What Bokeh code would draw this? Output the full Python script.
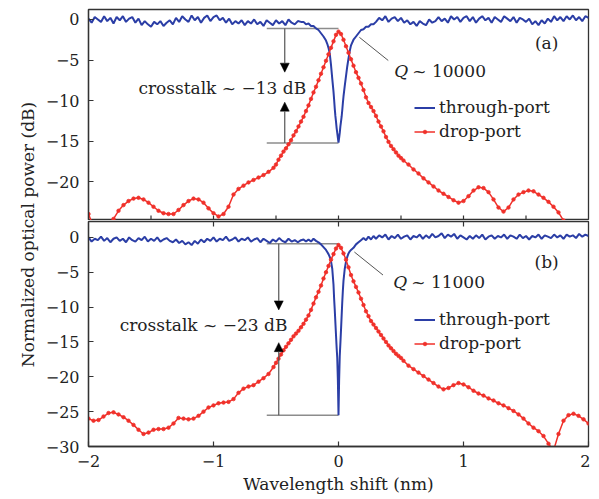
import math
from bokeh.plotting import figure
from bokeh.layouts import row, column
from bokeh.models import Range1d, FixedTicker, Legend, LegendItem, Arrow, NormalHead
from bokeh.core.properties import value
from bokeh.embed import file_html
from bokeh.resources import INLINE

# ---------------- data ----------------
blue_x_left = [-2.000,-1.975,-1.950,-1.925,-1.900,-1.875,-1.850,-1.825,-1.800,-1.775,
               -1.750,-1.725,-1.700,-1.675,-1.650,-1.625,-1.600,-1.575,-1.550,-1.525,
               -1.500,-1.475,-1.450,-1.425,-1.400,-1.375,-1.350,-1.325,-1.300,-1.275,
               -1.250,-1.225,-1.200,-1.175,-1.150,-1.125,-1.100,-1.075,-1.050,-1.025,
               -1.000,-0.975,-0.950,-0.925,-0.900,-0.875,-0.850,-0.825,-0.800,-0.775,
               -0.750,-0.725,-0.700,-0.675,-0.650,-0.625,-0.600,-0.575,-0.550,-0.525,
               -0.500,-0.475,-0.450,-0.425,-0.400,-0.375,-0.350,-0.325,-0.300]
blue_x_mid = [-0.28,-0.26,-0.24,-0.22,-0.20,-0.18,-0.16,-0.14,-0.12,-0.10,
              -0.09,-0.08,-0.07,-0.06,-0.05,
              -0.04,-0.035,-0.03,-0.025,-0.02,-0.015,-0.01,-0.005,0.0,0.005,0.01,0.015,0.02,0.025,0.03,0.035,0.04,
              0.05,0.06,0.07,0.08,0.09,
              0.10,0.12,0.14,0.16,0.18,0.20,0.22,0.24,0.26,0.28]
blue_x_right = [0.300,0.325,0.350,0.375,0.400,0.425,0.450,0.475,0.500,0.525,
                0.550,0.575,0.600,0.625,0.650,0.675,0.700,0.725,0.750,0.775,
                0.800,0.825,0.850,0.875,0.900,0.925,0.950,0.975,1.000,1.025,
                1.050,1.075,1.100,1.125,1.150,1.175,1.200,1.225,1.250,1.275,
                1.300,1.325,1.350,1.375,1.400,1.425,1.450,1.475,1.500,1.525,
                1.550,1.575,1.600,1.625,1.650,1.675,1.700,1.725,1.750,1.775,
                1.800,1.825,1.850,1.875,1.900,1.925,1.950,1.975,2.000]
blue_x = blue_x_left + blue_x_mid + blue_x_right

through_a = [0.1,-0.4,0.3,0.0,-0.3,0.4,-0.2,0.2,-0.5,0.3,
             -0.1,0.4,-0.3,0.1,0.3,-0.4,0.1,-0.7,-0.2,-0.6,
             -0.9,-0.3,-0.6,-0.2,-0.8,-0.4,-0.1,-0.6,0.2,-0.3,
             0.4,0.0,-0.3,0.5,-0.1,0.3,-0.4,0.2,0.5,-0.2,
             0.3,0.5,-0.1,0.2,-0.4,0.1,-0.6,-0.2,-0.5,-0.1,
             -0.7,-0.2,-0.5,0.0,-0.6,-0.3,-0.8,-0.1,-0.4,-0.7,
             -0.1,-0.5,-0.2,-0.7,0.0,-0.4,-0.6,-0.2,-0.3,
             -0.3,-0.6,-0.5,-0.8,-0.8,-1.1,-1.3,-1.7,-2.1,-2.6,
             -3.0,-3.5,-4.2,-5.6,-7.3,
             -8.9,-9.9,-11.0,-11.9,-12.6,-13.4,-14.0,-14.6,-15.2,-14.6,-14.0,-13.2,-12.6,-12.0,-11.2,-10.3,-9.5,
             -8.2,-7.0,-5.8,-4.8,-3.9,
             -3.2,-2.5,-2.1,-1.7,-1.3,-1.2,-0.9,-0.9,-0.6,-0.6,
             -0.3,0.2,-0.1,0.4,-0.3,0.1,0.3,-0.2,0.2,-0.4,
             -0.1,-0.6,-0.3,-0.8,-0.2,-0.5,-0.7,0.0,-0.4,-0.2,
             0.3,-0.2,0.1,-0.4,0.4,0.0,0.3,-0.3,0.2,0.4,
             -0.2,0.3,-0.4,0.1,0.4,-0.1,0.2,-0.4,0.3,0.0,
             -0.3,0.4,0.1,-0.2,0.3,-0.4,0.2,0.0,-0.3,0.1,
             -0.6,-0.2,-0.7,-0.1,-0.5,0.1,-0.3,0.4,-0.1,0.3,
             -0.2,0.4,0.0,0.5,-0.1,0.3,-0.2,0.4,0.2]

through_b = [0.0,-0.6,-0.2,-0.4,0.1,-0.5,-0.1,-0.7,-0.2,0.0,
             -0.5,-0.2,-0.7,0.0,-0.4,-0.6,-0.1,-0.4,0.1,-0.6,
             -0.2,-0.5,0.0,-0.6,-0.3,-0.1,-0.5,-0.7,-0.3,-0.8,
             -0.5,-1.0,-0.7,-1.1,-0.5,-0.9,-0.3,-0.7,-0.2,-0.5,
             0.0,-0.6,-0.2,-0.4,0.1,-0.5,-0.3,0.0,-0.6,-0.2,
             -0.4,0.0,-0.6,-0.3,-0.1,-0.7,-0.2,-0.5,-0.8,-0.3,
             -0.6,-0.1,-0.5,-0.7,-0.2,-0.6,-0.4,-0.7,-0.4,
             -0.3,-0.6,-0.3,-0.6,-0.2,-0.5,-0.7,-1.0,-1.4,-1.8,
             -2.1,-2.4,-2.8,-3.4,-4.5,
             -6.8,-8.8,-10.4,-12.2,-14.0,-15.8,-17.3,-20.5,-25.5,-20.5,-17.0,-15.2,-13.3,-11.3,-9.3,-7.6,-6.2,
             -4.5,-3.5,-2.8,-2.3,-2.0,
             -1.8,-1.5,-1.0,-0.7,-0.4,-0.1,-0.4,0.1,-0.3,0.2,
             -0.2,0.3,0.0,0.4,-0.3,0.2,-0.1,0.4,-0.2,0.1,
             0.3,-0.3,0.2,0.0,0.4,-0.2,0.3,-0.1,0.5,0.0,
             0.2,0.6,-0.1,0.4,0.1,0.5,-0.2,0.3,0.0,-0.3,
             0.2,-0.2,0.3,-0.1,0.4,-0.3,0.1,0.3,-0.2,0.2,
             0.0,0.4,-0.2,0.3,0.1,-0.2,0.4,-0.1,0.2,-0.3,
             0.2,0.0,0.4,-0.2,0.3,0.1,-0.1,0.4,0.0,0.3,
             -0.2,0.4,0.1,0.3,-0.1,0.5,0.1,0.4,0.2]

red_x = [-2.00,-1.96,-1.92,-1.88,-1.84,-1.80,-1.76,-1.72,-1.68,-1.64,
         -1.60,-1.56,-1.52,-1.48,-1.44,-1.40,-1.36,-1.32,-1.28,-1.24,
         -1.20,-1.16,-1.12,-1.08,-1.04,-1.00,-0.96,-0.92,-0.88,-0.84,
         -0.80,-0.76,-0.72,-0.68,-0.64,-0.60,-0.56,-0.52,
         -0.50,-0.48,-0.46,-0.44,-0.42,-0.40,-0.38,-0.36,-0.34,-0.32,
         -0.30,-0.28,-0.26,-0.24,-0.22,-0.20,-0.18,-0.16,-0.14,-0.12,
         -0.10,-0.08,-0.06,-0.04,-0.02,0.00,0.02,0.04,0.06,0.08,
         0.10,0.12,0.14,0.16,0.18,0.20,0.22,0.24,0.26,0.28,
         0.30,0.32,0.34,0.36,0.38,0.40,0.42,0.44,0.46,0.48,
         0.50,
         0.52,0.56,0.60,0.64,0.68,0.72,0.76,0.80,0.84,0.88,
         0.92,0.96,1.00,1.04,1.08,1.12,1.16,1.20,1.24,1.28,
         1.32,1.36,1.40,1.44,1.48,1.52,1.56,1.60,1.64,1.68,
         1.72,1.76,1.80,1.84,1.88,1.92,1.96,2.00]

drop_a = [-24.0,-25.6,-26.6,-26.8,-25.6,-24.6,-23.6,-22.9,-22.4,-22.1,
          -22.0,-22.2,-22.6,-23.1,-23.6,-23.9,-24.0,-24.0,-23.5,-22.9,
          -22.4,-22.1,-22.2,-22.6,-23.3,-23.9,-24.3,-24.0,-23.1,-21.6,
          -20.9,-20.5,-20.1,-19.8,-19.5,-19.2,-18.8,-18.3,
          -17.9,-17.3,-16.8,-16.3,-15.9,-15.4,-14.9,-14.3,-13.8,-13.2,
          -12.6,-12.0,-11.3,-10.6,-9.8,-9.0,-8.3,-7.5,-6.7,-5.9,
          -5.1,-4.3,-3.5,-2.7,-1.9,-1.5,-1.8,-2.5,-3.3,-4.1,
          -4.9,-5.7,-6.5,-7.2,-7.9,-8.7,-9.6,-10.3,-10.8,-11.3,
          -11.9,-12.6,-13.2,-13.8,-14.5,-15.1,-15.6,-16.0,-16.4,-16.8,
          -17.1,
          -17.4,-17.9,-18.5,-19.0,-19.6,-20.1,-20.6,-21.1,-21.5,-21.9,
          -22.3,-22.6,-22.4,-21.8,-21.1,-20.7,-20.8,-21.3,-22.2,-23.2,
          -23.7,-23.2,-22.2,-21.6,-21.3,-21.1,-21.2,-21.6,-22.0,-22.5,
          -23.1,-23.8,-24.8,-26.0,-27.0,-27.5,-27.5,-27.5]

drop_b = [-26.0,-26.3,-26.2,-25.7,-25.2,-25.1,-25.4,-25.8,-26.3,-26.9,
          -27.6,-28.2,-28.0,-27.6,-27.5,-27.5,-27.3,-26.7,-25.9,-26.0,
          -26.1,-26.0,-25.6,-25.0,-24.4,-24.1,-23.8,-23.7,-23.6,-23.2,
          -22.3,-21.7,-21.4,-21.2,-20.7,-20.2,-19.6,-18.6,
          -18.0,-17.4,-16.8,-16.2,-15.7,-15.2,-14.7,-14.2,-13.8,-13.4,
          -12.9,-12.4,-11.8,-11.2,-10.4,-9.5,-8.6,-7.8,-6.9,-5.9,
          -5.0,-4.1,-3.2,-2.4,-1.6,-1.1,-1.5,-2.3,-3.2,-4.3,
          -5.4,-6.3,-7.1,-7.9,-8.8,-9.7,-10.6,-11.3,-12.0,-12.5,
          -13.0,-13.5,-14.0,-14.5,-15.0,-15.5,-15.9,-16.3,-16.7,-17.0,
          -17.3,
          -17.7,-18.4,-18.9,-19.4,-19.9,-20.4,-20.9,-21.4,-21.8,-21.6,
          -21.2,-20.9,-21.1,-21.5,-22.0,-22.4,-22.7,-23.1,-23.4,-23.8,
          -24.1,-24.5,-24.9,-25.4,-26.0,-26.7,-27.3,-27.8,-28.5,-29.6,
          -30.6,-28.2,-26.3,-25.5,-25.3,-25.6,-26.1,-26.7]

x_ticks_b = [-2, -1, 0, 1, 2]
x_tick_labels = {-2: "\u22122", -1: "\u22121", 0: "0", 1: "1", 2: "2"}
x_minor_marks_a = [-1.5, -1.0, -0.5, 0.0, 0.5, 1.0, 1.5]   # inner ticks along (a)'s lower edge
x_marks_b_top = [-1.0, 0.0, 1.0]                           # inner ticks along (b)'s upper edge
y_ticks_a = [-20, -15, -10, -5, 0]
y_ticks_b = [-30, -25, -20, -15, -10, -5, 0]

# panel annotations (levels in dB, wavelength in nm)
ann_a = dict(level_hi=-1.1, level_lo=-15.25, x_left=-0.574, x_arrow=-0.43,
             arrow_dn=-6.5, arrow_up=-10.2, text="crosstalk ~ \u221213 dB", tx=-0.93, ty=-8.4,
             q="10000", qx=0.446, qy=-6.4, lead=(0.167, -2.2, 0.398, -5.06),
             tag="(a)", tagx=1.665, tagy=-2.96, yr=(-24.8, 1.23))
ann_b = dict(level_hi=-0.9, level_lo=-25.5, x_left=-0.574, x_arrow=-0.478,
             arrow_dn=-10.4, arrow_up=-15.1, text="crosstalk ~ \u221223 dB", tx=-1.08, ty=-12.55,
             q="11000", qx=0.438, qy=-6.4, lead=(0.127, -2.1, 0.356, -5.4),
             tag="(b)", tagx=1.665, tagy=-3.57, yr=(-30.0, 2.28))

# ---------------- style ----------------
FONT = "DejaVu Serif"
BLUE = "#2b3ea6"
RED = "#f0302a"
GRAY = "#8c8c8c"
INK = "#222222"
FRAME = "#333333"
LAB_W = 42
PW = 548
TOP_H = 220
BOT_H = 276


def style_axis(ax):
    ax.axis_line_color = FRAME
    ax.axis_line_width = 1.3
    ax.major_tick_line_color = FRAME
    ax.major_tick_line_width = 1.2
    ax.minor_tick_line_color = None
    ax.major_tick_in = 5
    ax.major_tick_out = 0
    ax.major_label_text_font = FONT
    ax.major_label_text_font_size = "16px"
    ax.major_label_text_color = INK


def make_panel(height, ann, yticks, through, drop, legend_loc, bottom):
    p = figure(width=PW, height=height, x_range=Range1d(-2, 2), y_range=Range1d(*ann["yr"]),
               output_backend="svg", toolbar_location=None,
               min_border_left=44, min_border_right=2,
               min_border_top=(1 if bottom else 9), min_border_bottom=0)
    p.grid.visible = False
    p.outline_line_color = FRAME
    p.outline_line_width = 1.3
    p.background_fill_color = "white"

    xa = p.xaxis[0]
    if bottom:
        style_axis(xa)
        xa.ticker = FixedTicker(ticks=x_ticks_b)
        xa.major_label_overrides = x_tick_labels
        xa.major_label_standoff = 8
        xa.axis_label = "Wavelength shift (nm)"
        xa.axis_label_text_font = FONT
        xa.axis_label_text_font_size = "17px"
        xa.axis_label_text_font_style = "normal"
        xa.axis_label_text_color = INK
        xa.axis_label_standoff = 4
        # small inner ticks hanging from the upper edge
        p.scatter(x_marks_b_top, [ann["yr"][1]] * len(x_marks_b_top), marker="dash", size=10,
                  angle=math.pi / 2, line_color=FRAME, line_width=1.2)
    else:
        xa.visible = False
        p.scatter(x_minor_marks_a, [ann["yr"][0]] * len(x_minor_marks_a), marker="dash", size=10,
                  angle=math.pi / 2, line_color=FRAME, line_width=1.2)

    ya = p.yaxis[0]
    style_axis(ya)
    ya.ticker = FixedTicker(ticks=yticks)
    ya.major_label_overrides = {t: ("\u2212%d" % -t if t < 0 else "%d" % t) for t in yticks}
    ya.major_label_standoff = 9

    # crosstalk markers
    p.segment(x0=[ann["x_left"], ann["x_left"]], y0=[ann["level_hi"], ann["level_lo"]],
              x1=[0, 0], y1=[ann["level_hi"], ann["level_lo"]], line_color=GRAY, line_width=1.5)
    lx0, ly0, lx1, ly1 = ann["lead"]
    p.segment(x0=[lx0], y0=[ly0], x1=[lx1], y1=[ly1], line_color="#555555", line_width=1)
    for ys, ye in ((ann["level_hi"], ann["arrow_dn"]), (ann["level_lo"], ann["arrow_up"])):
        p.add_layout(Arrow(end=NormalHead(size=9, fill_color="black", line_color="black", line_width=0.5),
                           x_start=ann["x_arrow"], y_start=ys, x_end=ann["x_arrow"], y_end=ye,
                           line_color="#555555", line_width=1.2))

    blue_r = p.line(blue_x, through, line_color=BLUE, line_width=2.0)
    red_l = p.line(red_x, drop, line_color=RED, line_width=1.5)
    red_s = p.scatter(red_x, drop, size=3.5, fill_color=RED, line_color=RED, line_width=0.8)

    tf = value(FONT)
    p.text(x=[ann["tx"]], y=[ann["ty"]], text=[ann["text"]], text_font=tf, text_font_size="17px",
           text_align="center", text_baseline="middle", text_color=INK)
    p.text(x=[ann["qx"]], y=[ann["qy"]], text=["Q"], text_font=tf, text_font_size="17px",
           text_font_style="italic", text_align="left", text_baseline="middle", text_color=INK)
    p.text(x=[ann["qx"]], y=[ann["qy"]], text=["~ " + ann["q"]], text_font=tf, text_font_size="17px",
           x_offset=18, text_align="left", text_baseline="middle", text_color=INK)
    p.text(x=[ann["tagx"]], y=[ann["tagy"]], text=[ann["tag"]], text_font=tf, text_font_size="17px",
           text_align="center", text_baseline="middle", text_color=INK)

    leg = Legend(items=[LegendItem(label="through-port", renderers=[blue_r]),
                        LegendItem(label="drop-port", renderers=[red_l, red_s])],
                 location=legend_loc)
    leg.label_text_font = FONT
    leg.label_text_font_size = "17px"
    leg.label_text_color = INK
    leg.glyph_width = 21
    leg.glyph_height = 9
    leg.label_height = 20
    leg.label_standoff = 4
    leg.spacing = 4
    leg.padding = 0
    leg.margin = 0
    leg.border_line_color = None
    leg.background_fill_alpha = 0
    p.add_layout(leg)
    return p


p_a = make_panel(TOP_H, ann_a, y_ticks_a, through_a, drop_a, (326, 79), False)
p_b = make_panel(BOT_H, ann_b, y_ticks_b, through_b, drop_b, (326, 93), True)

TOTAL_H = TOP_H + BOT_H
p_lab = figure(width=LAB_W, height=TOTAL_H, x_range=Range1d(0, LAB_W), y_range=Range1d(0, TOTAL_H),
               output_backend="svg", toolbar_location=None, min_border=0)
p_lab.axis.visible = False
p_lab.grid.visible = False
p_lab.outline_line_color = None
p_lab.text(x=[27], y=[TOTAL_H - 234], text=["Normalized optical power (dB)"], angle=math.pi / 2,
           text_font=value(FONT), text_font_size="17px", text_align="center",
           text_baseline="middle", text_color=INK)

layout = row(p_lab, column(p_a, p_b))
open("out.html", "w").write(file_html(layout, INLINE))
